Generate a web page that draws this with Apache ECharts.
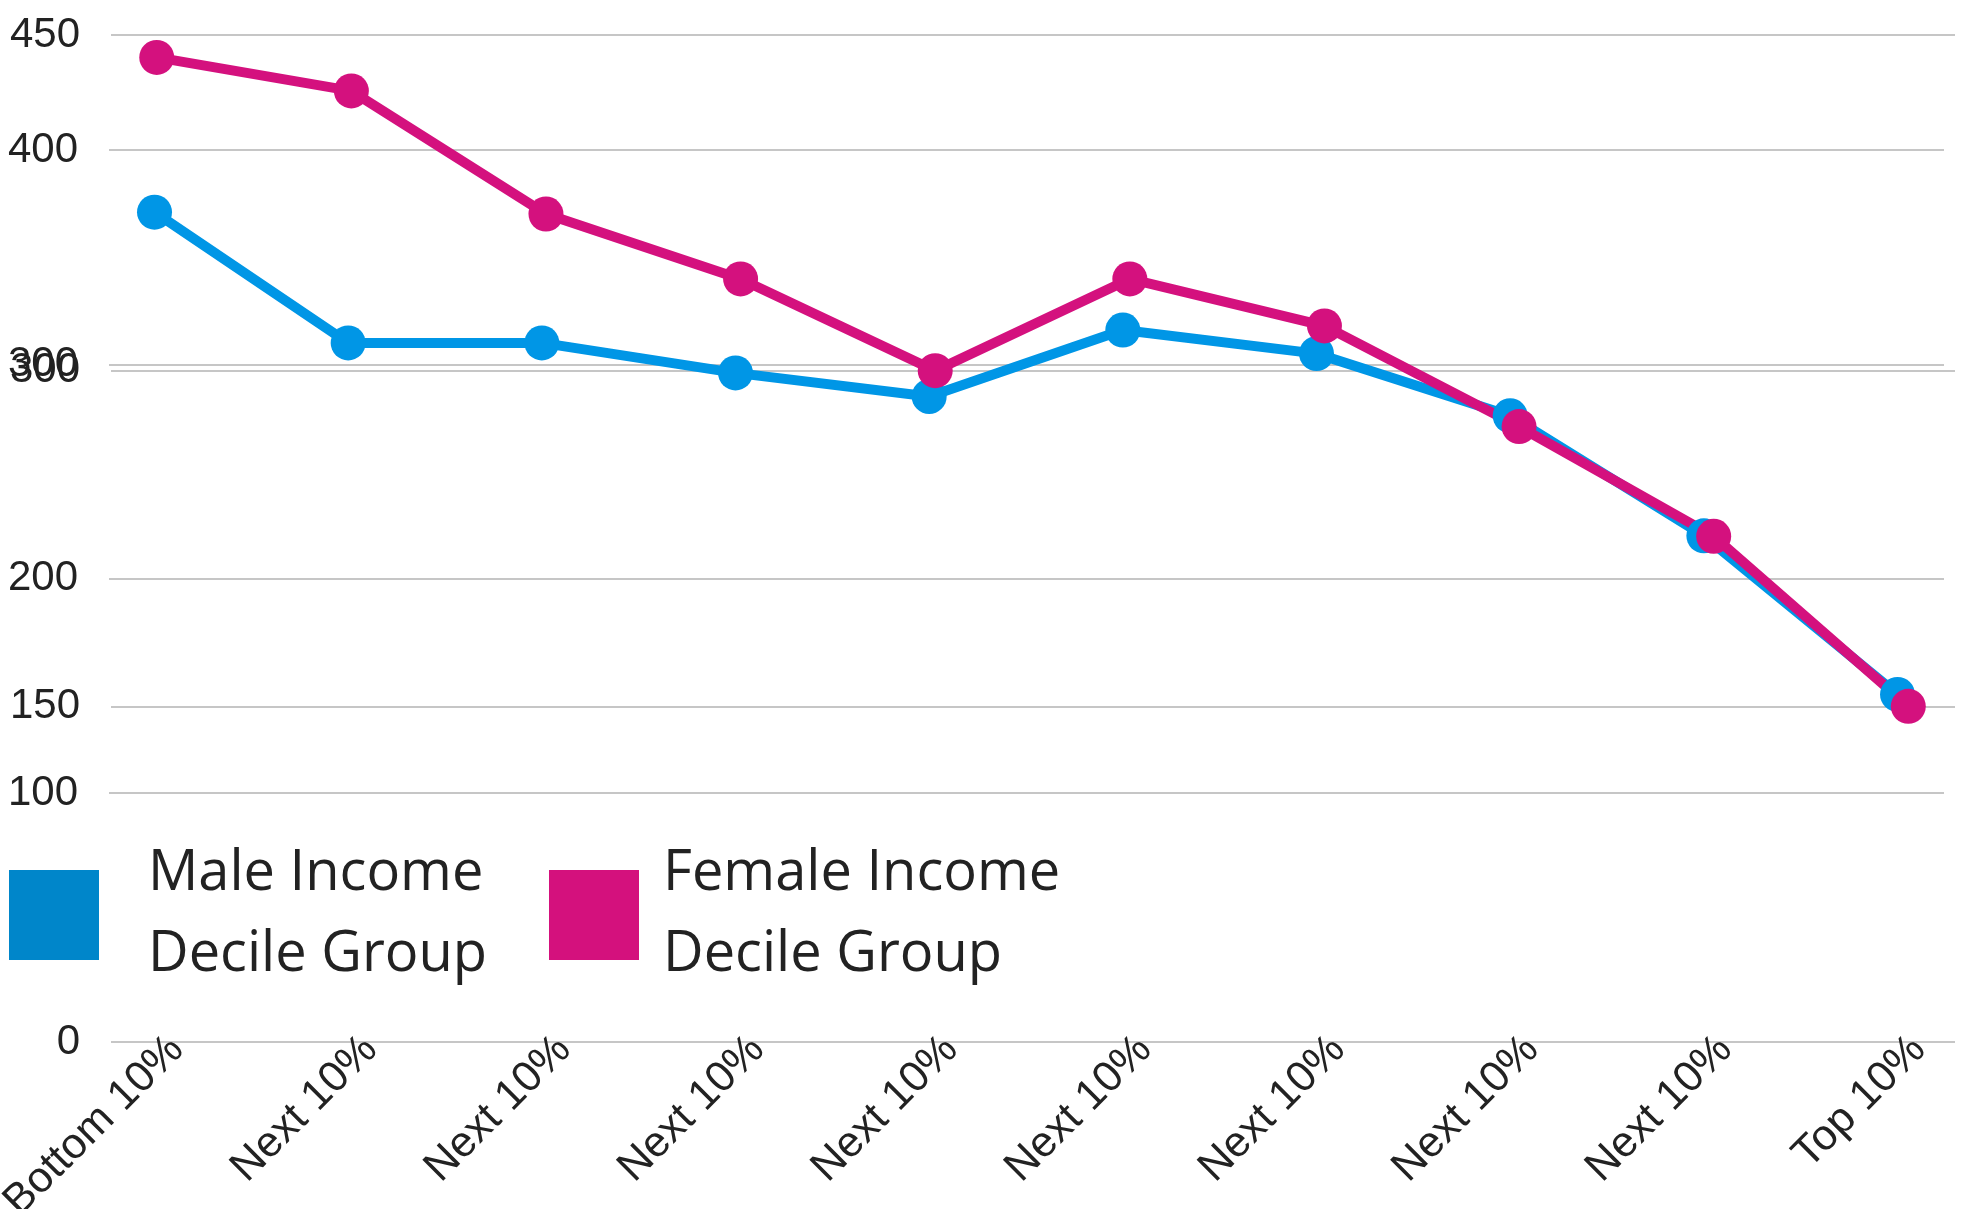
<!DOCTYPE html>
<html lang="en">
<head>
<meta charset="UTF-8">
<title>Income Decile Group</title>
<script src="https://cdn.jsdelivr.net/npm/echarts@6/dist/echarts.min.js"></script>
<style>
  html, body { margin: 0; padding: 0; background: #ffffff; }
  #chart { width: 1969px; height: 1209px; }
</style>
</head>
<body>
<div id="chart"></div>
<script>
  // decile groups on the x axis
  var categories = ['Bottom 10%', 'Next 10%', 'Next 10%', 'Next 10%', 'Next 10%',
                    'Next 10%', 'Next 10%', 'Next 10%', 'Next 10%', 'Top 10%'];

  // the two lines are plotted against their own (overlaid) y scales
  var maleValues   = [371, 310, 310, 296, 285, 316, 305, 276, 220, 146];
  var femaleValues = [440, 425, 370, 341, 300, 341, 320, 275, 226, 150];

  // tick labels of each scale
  var maleTicks   = [100, 200, 300, 400];
  var femaleTicks = [0, 150, 300, 450];

  var maleName = 'Male Income\nDecile Group';
  var femaleName = 'Female Income\nDecile Group';

  function toPoints(arr) {
    return arr.map(function (v, i) { return [i, v]; });
  }

  var labelFont = { fontFamily: 'Liberation Sans, Arial, sans-serif', fontSize: 42, color: '#222222' };
  var gridLine = { show: true, lineStyle: { color: '#c6c6c6', width: 2 } };
  var legendText = { fontFamily: 'Open Sans, sans-serif', fontSize: 56, lineHeight: 81, color: '#222222' };

  var chart = echarts.init(document.getElementById('chart'));

  chart.setOption({
    animation: false,
    backgroundColor: '#ffffff',
    grid: [
      // male scale
      { left: 109, right: 25, top: 150, bottom: 416, outerBoundsMode: 'none' },
      // female scale
      { left: 111, right: 14, top: 35, bottom: 167, outerBoundsMode: 'none' },
      // category labels
      { left: 177, right: 50, top: 35, bottom: 167, outerBoundsMode: 'none' }
    ],
    xAxis: [
      { type: 'value', gridIndex: 0, min: -0.235, max: 9.24, show: false },
      { type: 'value', gridIndex: 1, min: -0.235, max: 9.24, show: false },
      {
        type: 'category', gridIndex: 2, data: categories, boundaryGap: false,
        axisLine: { show: false }, axisTick: { show: false },
        axisLabel: Object.assign({ rotate: 45, interval: 0, margin: 1 }, labelFont, { fontSize: 43 })
      }
    ],
    yAxis: [
      {
        type: 'value', gridIndex: 0,
        min: maleTicks[0], max: maleTicks[maleTicks.length - 1],
        interval: maleTicks[1] - maleTicks[0],
        axisLine: { show: false }, axisTick: { show: false },
        axisLabel: Object.assign({ margin: 31 }, labelFont),
        splitLine: gridLine
      },
      {
        type: 'value', gridIndex: 1,
        min: femaleTicks[0], max: femaleTicks[femaleTicks.length - 1],
        interval: femaleTicks[1] - femaleTicks[0],
        axisLine: { show: false }, axisTick: { show: false },
        axisLabel: Object.assign({ margin: 31 }, labelFont),
        splitLine: gridLine
      },
      { type: 'value', gridIndex: 2, show: false }
    ],
    legend: [
      {
        data: [{ name: maleName, itemStyle: { color: '#0086ca' } }],
        left: 9, top: 834, padding: 0,
        icon: 'rect', itemWidth: 90, itemHeight: 90,
        textStyle: Object.assign({ padding: [0, 0, 0, 44] }, legendText)
      },
      {
        data: [{ name: femaleName, itemStyle: { color: '#d4117d' } }],
        left: 549, top: 834, padding: 0,
        icon: 'rect', itemWidth: 90, itemHeight: 90,
        textStyle: Object.assign({ padding: [0, 0, 0, 19] }, legendText)
      }
    ],
    series: [
      {
        name: maleName, type: 'line', xAxisIndex: 0, yAxisIndex: 0,
        data: toPoints(maleValues),
        symbol: 'circle', symbolSize: 35,
        lineStyle: { color: '#0096e6', width: 10 },
        itemStyle: { color: '#0096e6' }
      },
      {
        name: femaleName, type: 'line', xAxisIndex: 1, yAxisIndex: 1,
        data: toPoints(femaleValues),
        symbol: 'circle', symbolSize: 35,
        lineStyle: { color: '#d4117e', width: 10 },
        itemStyle: { color: '#d4117e' }
      }
    ]
  });
</script>
</body>
</html>
